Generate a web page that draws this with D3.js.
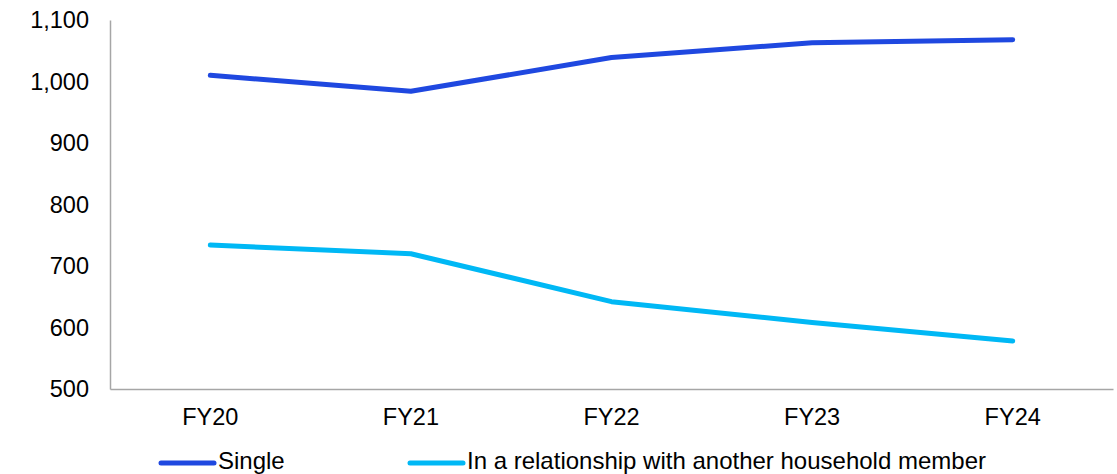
<!DOCTYPE html>
<html>
<head>
<meta charset="utf-8">
<script src="https://cdn.jsdelivr.net/npm/d3@7"></script>
<style>
  html, body { margin: 0; padding: 0; background: #fff; }
  svg { display: block; font-family: "Liberation Sans", Arial, sans-serif; }
</style>
</head>
<body>
<svg id="chart" width="1117" height="474"></svg>
<script>
// Financial years shown on the x axis
const years = ["FY20", "FY21", "FY22", "FY23", "FY24"];
// Series values
const single = [1010, 984, 1039, 1063, 1068];
const relationship = [734, 720, 642, 608, 578];
// Y axis tick values
const yTicks = [500, 600, 700, 800, 900, 1000, 1100];

const seriesNames = ["Single", "In a relationship with another household member"];
const seriesColors = ["#1f48e0", "#00b8f5"];

const svg = d3.select("#chart");
const margin = { left: 110, right: 4, top: 20, bottom: 85 };
const W = 1117, H = 474;

const x = d3.scaleBand()
  .domain(years)
  .range([margin.left, W - margin.right]);

const y = d3.scaleLinear()
  .domain([500, 1100])
  .range([H - margin.bottom, margin.top]);

const fmt = d3.format(",");

// Y axis
const yAxis = svg.append("g")
  .attr("transform", `translate(${margin.left},0)`)
  .call(d3.axisLeft(y).tickValues(yTicks).tickFormat(fmt).tickSize(0).tickPadding(21));
yAxis.select(".domain").attr("stroke", "#a6a6a6").attr("stroke-width", 1.5);
yAxis.selectAll("text")
  .attr("font-size", 23.5).attr("fill", "#000")
  .attr("font-family", "Liberation Sans, Arial, sans-serif");

// X axis
const xAxis = svg.append("g")
  .attr("transform", `translate(0,${y(500)})`)
  .call(d3.axisBottom(x).tickSize(0).tickPadding(19));
xAxis.select(".domain").attr("stroke", "#a6a6a6").attr("stroke-width", 1.5);
xAxis.selectAll("text")
  .attr("font-size", 23.5).attr("fill", "#000")
  .attr("font-family", "Liberation Sans, Arial, sans-serif");

// Lines
const line = d3.line()
  .x((d, i) => x(years[i]) + x.bandwidth() / 2)
  .y(d => y(d));

[single, relationship].forEach((vals, k) => {
  svg.append("path")
    .datum(vals)
    .attr("d", line)
    .attr("fill", "none")
    .attr("stroke", seriesColors[k])
    .attr("stroke-width", 5)
    .attr("stroke-linecap", "round")
    .attr("stroke-linejoin", "round");
});

// Legend
const legendX = [161, 410];
const legendY = 463;
seriesNames.forEach((name, k) => {
  const g = svg.append("g").attr("transform", `translate(${legendX[k]},${legendY})`);
  g.append("line")
    .attr("x1", 0).attr("x2", 53)
    .attr("y1", 0).attr("y2", 0)
    .attr("stroke", seriesColors[k])
    .attr("stroke-width", 5)
    .attr("stroke-linecap", "round");
  g.append("text")
    .attr("x", 57).attr("y", 6)
    .attr("font-size", 24)
    .attr("fill", "#000")
    .text(name);
});
</script>
</body>
</html>
